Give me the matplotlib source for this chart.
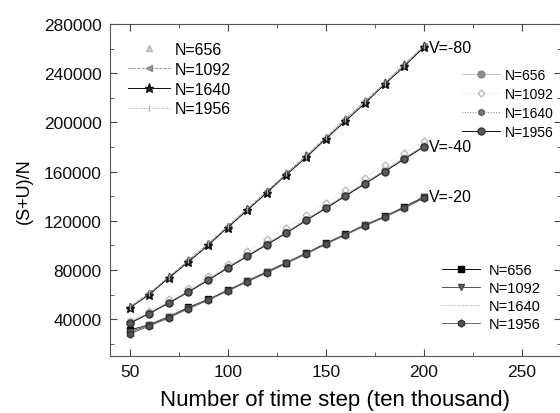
import matplotlib
matplotlib.use('Agg')
import matplotlib.pyplot as plt
from matplotlib.ticker import MultipleLocator

plt.rcParams['font.family'] = ['Liberation Sans', 'DejaVu Sans']

# time steps (ten thousand)
steps = [50, 60, 70, 80, 90, 100, 110, 120, 130, 140, 150, 160, 170, 180, 190, 200]

# V=-80
v80_n656 = [50500, 61500, 75000, 88500, 102000, 116000, 130500, 145000, 159500, 174000, 188500, 203500, 218500, 233500, 248500, 263500]
v80_n1092 = [49800, 61000, 74200, 87800, 101200, 115500, 129500, 144000, 158500, 173000, 187500, 202500, 217000, 232000, 247000, 262000]
v80_n1640 = [49000, 60000, 73500, 86500, 100000, 114500, 128500, 142800, 157500, 171500, 186500, 201000, 215500, 230800, 245500, 261000]
v80_n1956 = [49500, 61000, 74500, 88000, 101500, 115500, 129800, 144000, 158500, 173000, 187800, 202500, 217000, 232000, 247000, 262000]

# V=-40
v40_n656 = [37500, 45000, 54000, 63000, 72500, 82500, 92000, 101500, 111000, 121000, 131000, 141000, 151000, 161000, 171000, 181000]
v40_n1092 = [38500, 46500, 56000, 65500, 75000, 85000, 95000, 105000, 114500, 124500, 134500, 145000, 155000, 165000, 175000, 184500]
v40_n1640 = [37000, 44800, 53500, 62500, 72000, 82000, 91500, 101000, 110500, 120800, 130500, 140500, 150500, 160500, 170500, 180500]
v40_n1956 = [36500, 44500, 53000, 62000, 71500, 81500, 91000, 100500, 110000, 120200, 130000, 140000, 150000, 160000, 170000, 180000]

# V=-20
v20_n656 = [31000, 35500, 42000, 49500, 56000, 63500, 71000, 78500, 86000, 93500, 101500, 109000, 116500, 123500, 131000, 139500]
v20_n1092 = [29500, 35000, 41500, 49000, 55800, 63200, 70800, 78000, 85800, 93300, 101200, 108800, 116200, 123200, 130600, 139000]
v20_n1640 = [30000, 35800, 42300, 49800, 56500, 64000, 71500, 79000, 86500, 94000, 102000, 109500, 117000, 124000, 131500, 140000]
v20_n1956 = [28000, 34300, 41000, 48500, 55300, 62800, 70300, 77600, 85300, 92900, 100800, 108400, 115800, 122800, 130200, 138200]

fig = plt.figure(figsize=(5.6, 4.14), dpi=100)
ax = fig.add_axes([110/560, 1 - 357/414, 451/560, 332/414])

l80 = []
l80 += ax.plot(steps, v80_n656, ls='none', marker='^', ms=4.5, mfc='#d0d0d0', mec='#b8b8b8', label='N=656')
l80 += ax.plot(steps, v80_n1092, ls='--', lw=0.6, color='#8a8a8a', marker='<', ms=4.5, mfc='#999999', mec='#888888', label='N=1092')
l80 += ax.plot(steps, v80_n1640, ls='-', lw=0.7, color='#111111', marker='*', ms=6.5, mfc='#222222', mec='#111111', label='N=1640')
l80 += ax.plot(steps, v80_n1956, ls=':', lw=0.7, color='#999999', marker='|', ms=4.5, mec='#aaaaaa', label='N=1956')

l40 = []
l40 += ax.plot(steps, v40_n656, ls='-', lw=0.5, color='#aaaaaa', marker='o', ms=5, mfc='#8c8c8c', mec='#888888', label='N=656')
l40 += ax.plot(steps, v40_n1092, ls=':', lw=0.6, color='#d0d0d0', marker='D', ms=3.5, mfc='white', mec='#bbbbbb', label='N=1092')
l40 += ax.plot(steps, v40_n1640, ls=':', lw=0.7, color='#888888', marker='h', ms=4.5, mfc='#777777', mec='#666666', label='N=1640')
l40 += ax.plot(steps, v40_n1956, ls='-', lw=0.7, color='#111111', marker='o', ms=5, mfc='#5a5a5a', mec='#333333', label='N=1956')

l20 = []
l20 += ax.plot(steps, v20_n656, ls='-', lw=0.7, color='#111111', marker='s', ms=4.5, mfc='black', mec='black', label='N=656')
l20 += ax.plot(steps, v20_n1092, ls='-', lw=0.7, color='#555555', marker='v', ms=5, mfc='#666666', mec='#444444', label='N=1092')
l20 += ax.plot(steps, v20_n1640, ls=':', lw=0.7, color='#999999', label='N=1640')
l20 += ax.plot(steps, v20_n1956, ls='-', lw=0.7, color='#666666', marker='h', ms=5, mfc='#555555', mec='#333333', label='N=1956')

ax.text(steps[-1] + 2.5, v80_n1640[-1], 'V=-80', fontsize=11.5, va='center', ha='left')
ax.text(steps[-1] + 2.5, v40_n1640[-1], 'V=-40', fontsize=11.5, va='center', ha='left')
ax.text(steps[-1] + 2.5, v20_n1640[-1], 'V=-20', fontsize=11.5, va='center', ha='left')

leg_kw = dict(frameon=False, borderpad=0, borderaxespad=0)
leg1 = ax.legend(handles=l80, loc='upper left', bbox_to_anchor=(0.04, 0.946),
                 fontsize=11.5, handlelength=2.6, handletextpad=0.3, labelspacing=0.3, **leg_kw)
ax.add_artist(leg1)
leg2 = ax.legend(handles=l40, loc='upper left', bbox_to_anchor=(0.78, 0.868),
                 fontsize=10, handlelength=2.75, handletextpad=0.35, labelspacing=0.36, **leg_kw)
ax.add_artist(leg2)
ax.legend(handles=l20, loc='upper left', bbox_to_anchor=(0.736, 0.28),
          fontsize=10.5, handlelength=2.6, handletextpad=0.6, labelspacing=0.27, **leg_kw)

ax.set_xlim(40, 270)
ax.set_ylim(10000, 280000)
ax.xaxis.set_major_locator(MultipleLocator(50))
ax.xaxis.set_minor_locator(MultipleLocator(25))
ax.yaxis.set_major_locator(MultipleLocator(40000))
ax.yaxis.set_minor_locator(MultipleLocator(20000))
ax.tick_params(which='both', direction='in', top=True, right=True, labelsize=12.5,
               colors='#444444', labelcolor='#111111', pad=6)
ax.tick_params(which='major', length=5)
ax.tick_params(which='minor', length=3)
for s in ax.spines.values():
    s.set_color('#555555')

ax.set_xlabel('Number of time step (ten thousand)', fontsize=16, labelpad=7)
ax.set_ylabel('(S+U)/N', fontsize=13, labelpad=8)

fig.savefig('out.png', dpi=100)
